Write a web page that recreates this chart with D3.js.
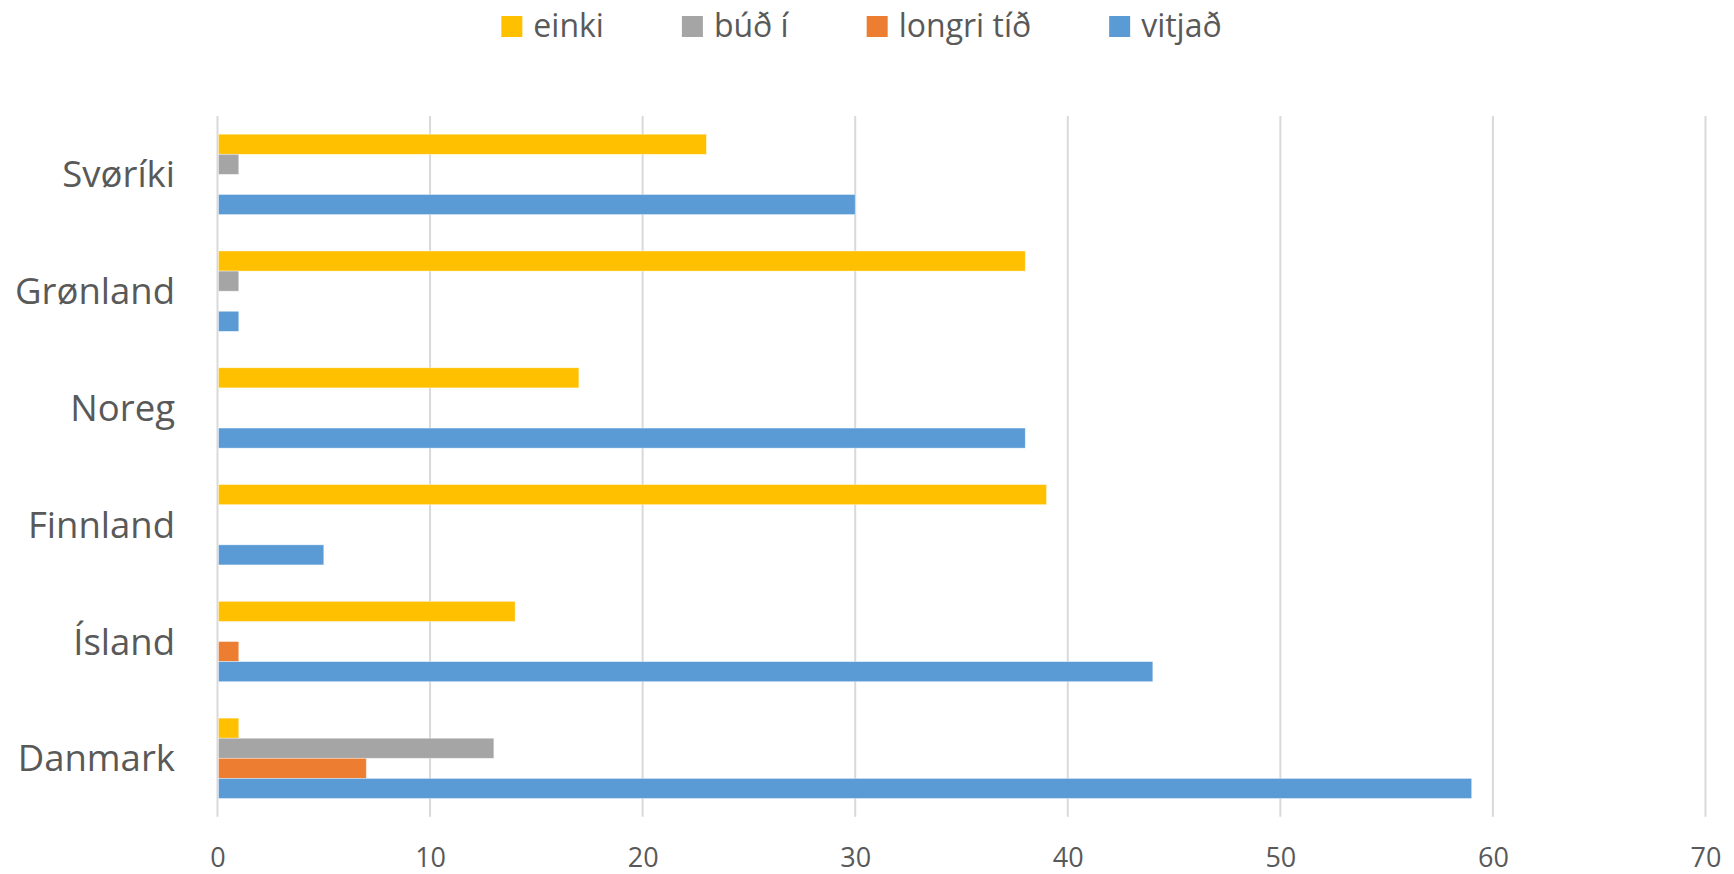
<!DOCTYPE html>
<html>
<head>
<meta charset="utf-8">
<script src="https://cdn.jsdelivr.net/npm/d3@7"></script>
<style>
  html, body { margin: 0; padding: 0; background: #ffffff; }
  svg { display: block; font-family: "Open Sans", "Noto Sans", sans-serif; }
</style>
</head>
<body>
<svg id="chart" width="1734" height="874"></svg>
<script>
// Categories, listed top to bottom
const categories = ["Svøríki", "Grønland", "Noreg", "Finnland", "Ísland", "Danmark"];

// Series names and values per category
const seriesNames = ["einki", "búð í", "longri tíð", "vitjað"];
const einki     = [23, 38, 17, 39, 14, 1];
const budI      = [1, 1, 0, 0, 0, 13];
const longriTid = [0, 0, 0, 0, 1, 7];
const vitjad    = [30, 1, 38, 5, 44, 59];
const seriesColors = ["#FFC000", "#A5A5A5", "#ED7D31", "#5B9BD5"];

// Value axis ticks
const xTicks = [0, 10, 20, 30, 40, 50, 60, 70];

const seriesValues = [einki, budI, longriTid, vitjad];

const svg = d3.select("#chart");
const textColor = "#595959";
const gridColor = "#d9d9d9";

const plot = { left: 217.5, right: 1705.5, top: 116, bottom: 816.7 };

const x = d3.scaleLinear().domain([0, 70]).range([plot.left, plot.right]);
const y = d3.scaleBand().domain(categories).range([plot.top, plot.bottom]).padding(0);

// Inner band for the four bars of each category
const groupPad = 0.156;
const inner = d3.scaleBand()
  .domain(seriesNames)
  .range([y.bandwidth() * groupPad, y.bandwidth() * (1 - groupPad)])
  .padding(0);

// Vertical gridlines
svg.append("g")
  .selectAll("line")
  .data(xTicks)
  .join("line")
  .attr("x1", d => x(d))
  .attr("x2", d => x(d))
  .attr("y1", plot.top)
  .attr("y2", plot.bottom)
  .attr("stroke", gridColor)
  .attr("stroke-width", 2);

// Bars
const groups = svg.append("g")
  .selectAll("g")
  .data(categories)
  .join("g")
  .attr("transform", d => `translate(0,${y(d)})`);

groups.selectAll("rect")
  .data((c, ci) => seriesNames.map((s, si) => ({ s, si, v: seriesValues[si][ci] })).filter(d => d.v > 0))
  .join("rect")
  .attr("x", x(0) + 1)
  .attr("y", d => inner(d.s))
  .attr("width", d => x(d.v) - x(0) - 1)
  .attr("height", inner.bandwidth())
  .attr("fill", d => seriesColors[d.si])
  .attr("stroke", "#ffffff")
  .attr("stroke-opacity", 0.5)
  .attr("stroke-width", 0.75);

// Category labels
svg.append("g")
  .selectAll("text")
  .data(categories)
  .join("text")
  .attr("x", plot.left - 42.5)
  .attr("y", d => y(d) + y.bandwidth() / 2 + 13)
  .attr("text-anchor", "end")
  .attr("font-size", 36.5)
  .attr("fill", textColor)
  .text(d => d);

// Value axis labels
const xAxis = d3.axisBottom(x).tickValues(xTicks).tickSize(0).tickPadding(0).tickFormat(d3.format("d"));
const xg = svg.append("g")
  .attr("transform", `translate(0,${plot.bottom})`)
  .call(xAxis);
xg.select(".domain").remove();
xg.selectAll("text")
  .attr("font-family", "'Open Sans', 'Noto Sans', sans-serif")
  .attr("font-size", 27)
  .attr("fill", textColor)
  .attr("dy", null)
  .attr("y", 50.5);

// Legend
const legend = svg.append("g");
let lx = 0;
const markerSize = 21;
seriesNames.forEach((name, i) => {
  const g = legend.append("g");
  g.append("rect")
    .attr("x", 0)
    .attr("y", 16)
    .attr("width", markerSize)
    .attr("height", markerSize)
    .attr("fill", seriesColors[i]);
  const t = g.append("text")
    .attr("x", markerSize + 11)
    .attr("y", 36.5)
    .attr("font-size", 32)
    .attr("fill", textColor)
    .text(name);
  const w = t.node().getComputedTextLength();
  g.attr("transform", `translate(${lx},0)`);
  lx += markerSize + 11 + w + 78;
});
const legendWidth = lx - 78;
legend.attr("transform", `translate(${861.5 - legendWidth / 2},0)`);
</script>
</body>
</html>
